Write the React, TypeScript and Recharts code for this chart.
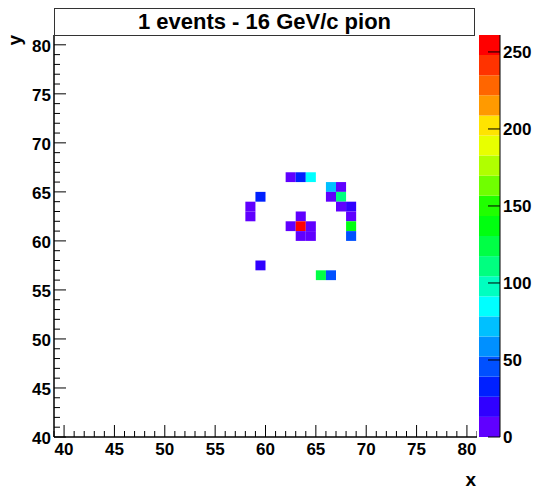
import { Bar, BarChart, Scatter, ScatterChart, XAxis, YAxis } from "recharts";

// axis ranges (bin edges)
const X_MIN = 39;
const X_MAX = 81;
const Y_MIN = 40;
const Y_MAX = 81;
const Z_MAX = 261;

// tick labels
const X_LABELS = [40, 45, 50, 55, 60, 65, 70, 75, 80];
const Y_LABELS = [40, 45, 50, 55, 60, 65, 70, 75, 80];
const Z_LABELS = [0, 50, 100, 150, 200, 250];

// filled bins: lower edge in x, lower edge in y, content
const cellX = [62, 63, 64, 66, 67, 59, 66, 67, 58, 67, 68, 58, 63, 68, 62, 63, 64, 68, 63, 64, 68, 59, 65, 66];
const cellY = [66, 66, 66, 65, 65, 64, 64, 64, 63, 63, 63, 62, 62, 62, 61, 61, 61, 61, 60, 60, 60, 57, 56, 56];
const cellZ = [8, 32, 85, 72, 10, 30, 8, 110, 6, 10, 18, 7, 9, 8, 5, 261, 11, 140, 6, 9, 45, 20, 122, 48];

// 20 contour colours, low to high
const PALETTE = [
  "#6000ff", "#3000ff", "#0020ff", "#0050ff", "#0090ff",
  "#00c0ff", "#00ffff", "#00ffc0", "#00ff80", "#00ff45",
  "#00ff10", "#20ff00", "#70ff00", "#b0ff00", "#e8ff00",
  "#ffe400", "#ff9a00", "#ff6600", "#ff3300", "#ff0000",
];

const FONT = "'Liberation Sans', Arial, Helvetica, sans-serif";
const W = 535;
const H = 491;
const PLOT_LEFT = 54;
const PLOT_RIGHT = 477;
const PLOT_TOP = 35;
const PLOT_BOTTOM = 437;
const CELL_W = (PLOT_RIGHT - PLOT_LEFT) / (X_MAX - X_MIN);
const CELL_H = (PLOT_BOTTOM - PLOT_TOP) / (Y_MAX - Y_MIN);
const LEVEL = Z_MAX / PALETTE.length;

const cells = cellX.map((x, i) => ({ x: x + 0.5, y: cellY[i] + 0.5, z: cellZ[i] }));

const colorFor = (z: number) => PALETTE[Math.min(PALETTE.length - 1, Math.floor(z / LEVEL))];

const xTicks: number[] = [];
for (let v = X_MIN; v <= X_MAX; v++) xTicks.push(v);
const yTicks: number[] = [];
for (let v = Y_MIN; v <= Y_MAX; v++) yTicks.push(v);

const scaleRow: Record<string, number | string> = { name: "z" };
PALETTE.forEach((_, i) => (scaleRow[`l${i}`] = LEVEL));

const labelStyle = { fontFamily: FONT, fontSize: 17, fontWeight: "bold" as const, fill: "#000" };
const titleStyle = { ...labelStyle, fontSize: 19 };

const XTick = ({ x, y, payload }: any) => {
  const major = X_LABELS.includes(payload.value);
  return (
    <g>
      <line x1={x} x2={x} y1={y} y2={y - (major ? 12 : 6)} stroke="#000" />
      {major && (
        <text x={x} y={y + 18} textAnchor="middle" {...labelStyle}>
          {payload.value}
        </text>
      )}
    </g>
  );
};

const YTick = ({ x, y, payload }: any) => {
  const major = Y_LABELS.includes(payload.value);
  return (
    <g>
      <line x1={x} x2={x + (major ? 12 : 6)} y1={y} y2={y} stroke="#000" />
      {major && (
        <text x={x - 3} y={y + 7} textAnchor="end" {...labelStyle}>
          {payload.value}
        </text>
      )}
    </g>
  );
};

const ZTick = ({ x, y, payload }: any) => (
  <g>
    <line x1={x - 12} x2={x} y1={y} y2={y} stroke="#000" />
    <text x={x + 3} y={y + 6} textAnchor="start" {...labelStyle}>
      {payload.value}
    </text>
  </g>
);

const Cell = ({ cx, cy, payload }: any) => (
  <rect x={cx - CELL_W / 2} y={cy - CELL_H / 2} width={CELL_W} height={CELL_H} fill={colorFor(payload.z)} />
);

export default function App() {
  return (
    <div style={{ position: "absolute", left: 0, top: 0, width: W, height: H, background: "#fff", fontFamily: FONT }}>
      <div style={{ position: "absolute", left: 0, top: 0 }}>
        <ScatterChart width={PLOT_RIGHT} height={H} margin={{ top: PLOT_TOP, right: 0, bottom: 0, left: 0 }}>
          <XAxis
            xAxisId="top"
            orientation="top"
            type="number"
            domain={[X_MIN, X_MAX]}
            height={0}
            tick={false}
            tickLine={false}
            axisLine={{ stroke: "#222" }}
          />
          <YAxis
            yAxisId="right"
            orientation="right"
            type="number"
            domain={[Y_MIN, Y_MAX]}
            width={0}
            tick={false}
            tickLine={false}
            axisLine={{ stroke: "#222" }}
          />
          <XAxis
            dataKey="x"
            type="number"
            domain={[X_MIN, X_MAX]}
            ticks={xTicks}
            interval={0}
            allowDataOverflow
            height={H - PLOT_BOTTOM}
            tickSize={0}
            tickMargin={0}
            tick={<XTick />}
            axisLine={{ stroke: "#000", strokeWidth: 1.5 }}
            label={() => (
              <text x={PLOT_RIGHT - 1} y={486} textAnchor="end" {...titleStyle}>
                x
              </text>
            )}
          />
          <YAxis
            dataKey="y"
            type="number"
            domain={[Y_MIN, Y_MAX]}
            ticks={yTicks}
            interval={0}
            allowDataOverflow
            width={PLOT_LEFT}
            tickSize={0}
            tickMargin={0}
            tick={<YTick />}
            axisLine={{ stroke: "#000", strokeWidth: 1.5 }}
            label={() => (
              <text transform={`translate(21,${PLOT_TOP}) rotate(-90)`} textAnchor="end" {...titleStyle}>
                y
              </text>
            )}
          />
          <Scatter data={cells} shape={<Cell />} isAnimationActive={false} />
        </ScatterChart>
      </div>

      <div style={{ position: "absolute", left: 479, top: 0 }}>
        <BarChart
          width={W - 479}
          height={H}
          data={[scaleRow]}
          margin={{ top: PLOT_TOP, right: 0, bottom: H - PLOT_BOTTOM, left: 0 }}
          barCategoryGap={0}
          barGap={0}
        >
          <XAxis dataKey="name" hide />
          <YAxis
            orientation="right"
            type="number"
            domain={[0, Z_MAX]}
            ticks={Z_LABELS}
            interval={0}
            allowDataOverflow
            width={35}
            tickSize={0}
            tickMargin={0}
            tick={<ZTick />}
            axisLine={{ stroke: "#000" }}
          />
          {PALETTE.map((c, i) => (
            <Bar key={c} dataKey={`l${i}`} stackId="z" fill={c} isAnimationActive={false} />
          ))}
        </BarChart>
      </div>

      <div
        style={{
          position: "absolute",
          left: 54,
          top: 8,
          width: 421,
          height: 28,
          boxSizing: "border-box",
          border: "1px solid #333",
          background: "#fff",
          textAlign: "center",
          fontSize: 22,
          fontWeight: "bold",
          lineHeight: "26px",
          color: "#000",
        }}
      >
        1 events - 16 GeV/c pion
      </div>
    </div>
  );
}
